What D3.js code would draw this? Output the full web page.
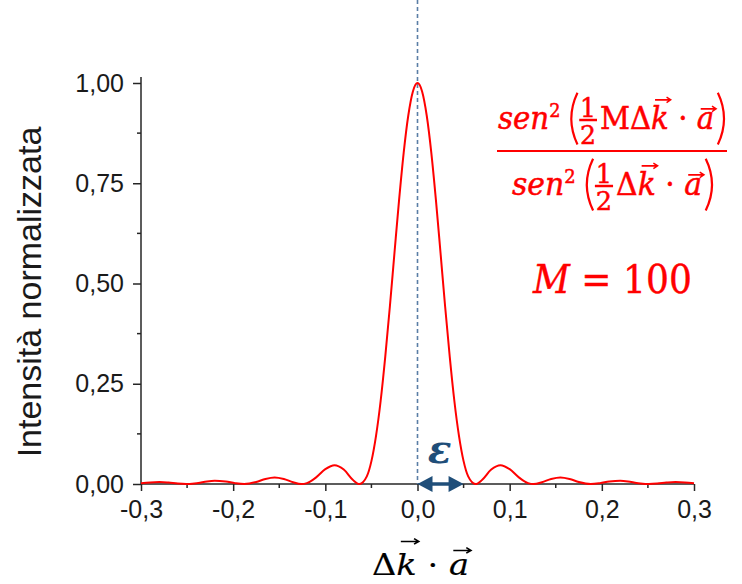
<!DOCTYPE html>
<html>
<head>
<meta charset="utf-8">
<script src="https://cdn.jsdelivr.net/npm/d3@7"></script>
<style>
  html, body { margin: 0; padding: 0; background: #fff; }
  svg { display: block; }
</style>
</head>
<body>
<div id="chart"></div>
<script>
//-- DATA --\\
var deltaKa = [-0.3, -0.29, -0.28, -0.27, -0.26, -0.251, -0.242, -0.232, -0.22, -0.208, -0.198, -0.188,
               -0.175, -0.165, -0.155, -0.145, -0.135, -0.126, -0.12, -0.11, -0.1, -0.09, -0.08, -0.07,
               -0.063, -0.055, -0.05, -0.045, -0.04, -0.035, -0.03, -0.025, -0.02, -0.015, -0.01, -0.005,
               0,
               0.005, 0.01, 0.015, 0.02, 0.025, 0.03, 0.035, 0.04, 0.045, 0.05, 0.055, 0.063,
               0.07, 0.08, 0.09, 0.1, 0.11, 0.12, 0.126, 0.135, 0.145, 0.155, 0.165, 0.175, 0.188,
               0.198, 0.208, 0.22, 0.232, 0.242, 0.251, 0.26, 0.27, 0.28, 0.29, 0.3];
var intensity = [0.002, 0.004, 0.005, 0.0035, 0.001, 0, 0.0014, 0.0048, 0.0083, 0.0062, 0.0022, 0,
                 0.005, 0.0125, 0.0162, 0.0124, 0.0045, 0, 0.0022, 0.0165, 0.037, 0.047, 0.036, 0.010,
                 0, 0.019, 0.057, 0.12, 0.207, 0.317, 0.442, 0.576, 0.708, 0.826, 0.919, 0.979,
                 1.0,
                 0.979, 0.919, 0.826, 0.708, 0.576, 0.442, 0.317, 0.207, 0.12, 0.057, 0.019, 0,
                 0.010, 0.036, 0.047, 0.037, 0.0165, 0.0022, 0, 0.0045, 0.0124, 0.0162, 0.0125, 0.005, 0,
                 0.0022, 0.0062, 0.0083, 0.0048, 0.0014, 0, 0.001, 0.0035, 0.005, 0.004, 0.002];

var xTicks = [-0.3, -0.2, -0.1, 0.0, 0.1, 0.2, 0.3];
var xMinorTicks = [-0.25, -0.15, -0.05, 0.05, 0.15, 0.25];
var yTicks = [0, 0.25, 0.5, 0.75, 1.0];
var yMinorTicks = [0.125, 0.375, 0.625, 0.875];
var yTitle = "Intensità normalizzata";
var epsilonLabel = "ε";
var epsilonWidth = [0, 0.05];

//-- CONSTANTS --\\
var width = 742, height = 584;
var plotLeft = 141, plotRight = 694, plotTop = 83, plotBottom = 484;
var axisCol = "#262626";
var curveCol = "#ff0000";
var dashCol = "#5a7ea6";
var arrowCol = "#1f4e79";
var tickFont = "Liberation Sans, Arial, sans-serif";
var mathFont = "DejaVu Serif, serif";

var svg = d3.select("#chart").append("svg")
    .attr("width", width)
    .attr("height", height);

svg.append("rect").attr("width", width).attr("height", height).attr("fill", "#fff");

var x = d3.scaleLinear().domain([-0.3, 0.3]).range([plotLeft, plotRight]);
var y = d3.scaleLinear().domain([0, 1]).range([plotBottom, plotTop]);

//-- axes --\\
var xAxis = svg.append("g")
    .attr("transform", "translate(0," + plotBottom + ")")
    .call(d3.axisBottom(x).tickValues(xTicks).tickSize(7).tickPadding(9)
        .tickFormat(function (d) { return d3.format(".1f")(d).replace(".", ",").replace("−", "-"); }));
xAxis.append("g").selectAll("line").data(xMinorTicks).join("line")
    .attr("x1", function (d) { return x(d); }).attr("x2", function (d) { return x(d); })
    .attr("y1", 0).attr("y2", 4);

var yAxis = svg.append("g")
    .attr("transform", "translate(" + plotLeft + ",0)")
    .call(d3.axisLeft(y).tickValues(yTicks).tickSize(8).tickPadding(9)
        .tickFormat(function (d) { return d3.format(".2f")(d).replace(".", ","); }));
yAxis.append("g").selectAll("line").data(yMinorTicks).join("line")
    .attr("x1", 0).attr("x2", -4)
    .attr("y1", function (d) { return y(d); }).attr("y2", function (d) { return y(d); });

// y axis runs a bit above 1.00
yAxis.select(".domain").attr("d", "M0," + plotBottom + "V" + (y(1.015)));
xAxis.select(".domain").attr("d", "M" + plotLeft + ",0H" + plotRight);

[xAxis, yAxis].forEach(function (a) {
    a.selectAll("path, line").attr("stroke", axisCol).attr("stroke-width", 1.5);
    a.selectAll("text").attr("font-family", tickFont).attr("font-size", 25).attr("fill", "#1a1a1a");
});

svg.append("text")
    .attr("transform", "translate(41," + 292 + ") rotate(-90)")
    .attr("text-anchor", "middle")
    .attr("font-family", tickFont)
    .attr("font-size", 34)
    .attr("fill", "#1a1a1a")
    .text(yTitle);

//-- dashed centre line --\\
svg.append("line")
    .attr("x1", x(0)).attr("x2", x(0))
    .attr("y1", 0).attr("y2", plotBottom)
    .attr("stroke", dashCol).attr("stroke-width", 1.6)
    .attr("stroke-dasharray", "4,3");

//-- curve --\\
var line = d3.line()
    .x(function (d, i) { return x(deltaKa[i]); })
    .y(function (d) { return y(d); })
    .curve(d3.curveMonotoneX);

svg.append("path")
    .attr("d", line(intensity))
    .attr("fill", "none")
    .attr("stroke", curveCol)
    .attr("stroke-width", 2);

//-- epsilon arrow --\\
var ax0 = x(epsilonWidth[0]), ax1 = x(epsilonWidth[1]);
var head = 15, hw = 8;
svg.append("line")
    .attr("x1", ax0 + head - 2).attr("x2", ax1 - head + 2)
    .attr("y1", plotBottom).attr("y2", plotBottom)
    .attr("stroke", arrowCol).attr("stroke-width", 3.5);
svg.append("path")
    .attr("d", "M" + ax0 + "," + plotBottom + "L" + (ax0 + head) + "," + (plotBottom - hw) + "L" + (ax0 + head) + "," + (plotBottom + hw) + "Z" +
               "M" + ax1 + "," + plotBottom + "L" + (ax1 - head) + "," + (plotBottom - hw) + "L" + (ax1 - head) + "," + (plotBottom + hw) + "Z")
    .attr("fill", arrowCol);
svg.append("text")
    .attr("x", (ax0 + ax1) / 2 - 1).attr("y", 463)
    .attr("text-anchor", "middle")
    .attr("font-family", mathFont)
    .attr("font-weight", "bold").attr("font-style", "italic")
    .attr("font-size", 39)
    .attr("fill", arrowCol)
    .text(epsilonLabel);

//-- math typesetting helper --\\
/* lays out pieces along a baseline at 0 (vertical units = px),
   then squeezes the group horizontally into [left, right] */
function drawMath(items, size, col, left, right, baseline, weight) {
    var g = svg.append("g");
    var cx = 0;
    function txt(sel) {
        return sel.attr("font-family", mathFont).attr("fill", col)
            .attr("stroke", col).attr("stroke-width", weight || 0);
    }
    items.forEach(function (it) {
        if (it.t !== undefined) {
            var fs = size * (it.scale || 1);
            var el = txt(g.append("text"))
                .attr("x", cx).attr("y", (it.dy || 0) * size)
                .attr("font-size", fs)
                .attr("font-style", it.it ? "italic" : "normal")
                .style("white-space", "pre")
                .text(it.t);
            var w = el.node().getComputedTextLength();
            if (it.vec) {
                var ay = -it.vec * size, a0 = cx + 0.22 * w, a1 = cx + w + 0.06 * size;
                g.append("path")
                    .attr("d", "M" + a0 + "," + ay + "H" + a1 +
                        "M" + (a1 - 0.14 * size) + "," + (ay - 0.09 * size) + "L" + a1 + "," + ay +
                        "L" + (a1 - 0.14 * size) + "," + (ay + 0.09 * size))
                    .attr("fill", "none").attr("stroke", col)
                    .attr("stroke-width", 0.05 * size);
            }
            cx += w + (it.pad || 0) * size;
        } else if (it.frac) {
            var fs2 = size * 0.86;
            var t1 = txt(g.append("text")).attr("y", -0.39 * size)
                .attr("font-size", fs2).attr("text-anchor", "middle").text(it.frac[0]);
            var t2 = txt(g.append("text")).attr("y", 0.48 * size)
                .attr("font-size", fs2).attr("text-anchor", "middle").text(it.frac[1]);
            var fw = Math.max(t1.node().getComputedTextLength(), t2.node().getComputedTextLength()) + 0.06 * size;
            t1.attr("x", cx + fw / 2); t2.attr("x", cx + fw / 2);
            g.append("line").attr("x1", cx).attr("x2", cx + fw)
                .attr("y1", -0.29 * size).attr("y2", -0.29 * size)
                .attr("stroke", col).attr("stroke-width", 0.08 * size);
            cx += fw + 0.1 * size;
        } else if (it.paren) {
            var pw = 0.3 * size, top = -1.17 * size, bot = 0.5 * size, mid = (top + bot) / 2;
            var px0 = it.paren === "(" ? cx + pw : cx;
            var px1 = it.paren === "(" ? cx - 0.12 * size : cx + pw + 0.12 * size;
            g.append("path")
                .attr("d", "M" + px0 + "," + top + "Q" + px1 + "," + mid + " " + px0 + "," + bot)
                .attr("fill", "none").attr("stroke", col).attr("stroke-width", 0.075 * size);
            cx += pw + 0.06 * size;
        } else if (it.gap) {
            cx += it.gap * size;
        }
    });
    var bb = g.node().getBBox();
    var s = (right - left) / bb.width;
    g.attr("transform", "translate(" + (left - bb.x * s) + "," + baseline + ") scale(" + s + ",1)");
    return g;
}

// numerator and denominator of the interference function
var numItems = [
    {t: "sen", it: true}, {t: "2", scale: 0.6, dy: -0.39}, {gap: 0.28},
    {paren: "("}, {frac: ["1", "2"]},
    {t: "MΔ"}, {t: "k", it: true, vec: 0.94}, {t: " · "}, {t: "a", it: true, vec: 0.65},
    {gap: 0.12}, {paren: ")"}
];
var denItems = [
    {t: "sen", it: true}, {t: "2", scale: 0.6, dy: -0.39}, {gap: 0.28},
    {paren: "("}, {frac: ["1", "2"]},
    {t: "Δ"}, {t: "k", it: true, vec: 0.94}, {t: " · "}, {t: "a", it: true, vec: 0.65},
    {gap: 0.12}, {paren: ")"}
];
drawMath(numItems, 31, curveCol, 498, 724, 129, 0.5);
svg.append("line").attr("x1", 497).attr("x2", 727).attr("y1", 151).attr("y2", 151)
    .attr("stroke", curveCol).attr("stroke-width", 2);
drawMath(denItems, 31, curveCol, 512, 712, 195, 0.5);
drawMath([{t: "M", it: true}, {t: " = 100"}], 38.5, curveCol, 532, 692, 293, 0.4);

// x axis title
drawMath([{t: "Δ"}, {t: "k", it: true, vec: 1.12}, {t: " · "}, {t: "a", it: true, vec: 0.82}],
    30, "#000", 372, 471, 575, 0.2);
</script>
</body>
</html>
